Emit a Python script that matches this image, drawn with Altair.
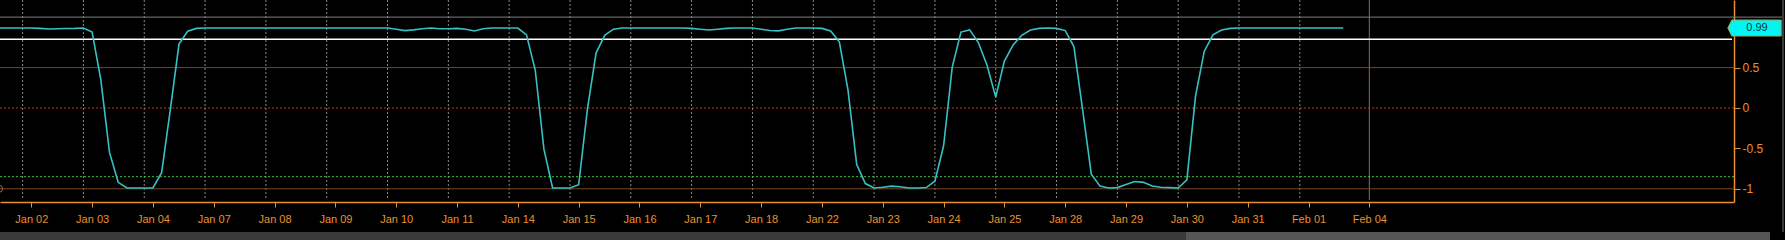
import altair as alt
import pandas as pd

# ---- data ----
day_labels = ["Jan 02", "Jan 03", "Jan 04", "Jan 07", "Jan 08", "Jan 09", "Jan 10",
              "Jan 11", "Jan 14", "Jan 15", "Jan 16", "Jan 17", "Jan 18", "Jan 22",
              "Jan 23", "Jan 24", "Jan 25", "Jan 28", "Jan 29", "Jan 30", "Jan 31",
              "Feb 01", "Feb 04"]
steps_per_day = 7
first_step = -4  # samples start 4 steps before the "Jan 02" tick

series_values = (
    [0.99, 0.99, 0.99, 0.99]
    + [0.99, 0.985, 0.978, 0.98, 0.983, 0.985, 0.99]          # Jan 02
    + [0.94, 0.35, -0.55, -0.92, -0.99, -0.99, -0.99]         # Jan 03
    + [-0.99, -0.80, -0.02, 0.79, 0.95, 0.985, 0.99]          # Jan 04
    + [0.99] * 7                                              # Jan 07
    + [0.99] * 7                                              # Jan 08
    + [0.99] * 7                                              # Jan 09
    + [0.975, 0.958, 0.967, 0.98, 0.99, 0.98, 0.98]           # Jan 10
    + [0.985, 0.975, 0.954, 0.98, 0.99, 0.99, 0.99]           # Jan 11
    + [0.99, 0.905, 0.47, -0.51, -0.99, -0.99, -0.99]         # Jan 14
    + [-0.95, -0.02, 0.68, 0.90, 0.975, 0.99, 0.99]           # Jan 15
    + [0.99, 0.99, 0.99, 0.99, 0.99, 0.99, 0.985]             # Jan 16
    + [0.975, 0.965, 0.975, 0.985, 0.99, 0.99, 0.99]          # Jan 17
    + [0.975, 0.96, 0.955, 0.975, 0.99, 0.99, 0.99]           # Jan 18
    + [0.985, 0.954, 0.82, 0.22, -0.70, -0.935, -0.99]        # Jan 22
    + [-0.98, -0.967, -0.975, -0.99, -0.99, -0.985, -0.906]   # Jan 23
    + [-0.47, 0.51, 0.94, 0.967, 0.81, 0.53, 0.135]           # Jan 24
    + [0.58, 0.78, 0.90, 0.965, 0.985, 0.99, 0.985]           # Jan 25
    + [0.958, 0.76, -0.02, -0.82, -0.967, -0.99, -0.985]      # Jan 28
    + [-0.947, -0.91, -0.92, -0.965, -0.98, -0.985, -0.99]    # Jan 29
    + [-0.89, 0.15, 0.70, 0.905, 0.965, 0.985, 0.99]          # Jan 30
    + [0.99] * 7                                              # Jan 31
    + [0.99] * 5                                              # Feb 01
)

y_tick_values = [0.5, 0, -0.5, -1]
last_value_label = "0.99"
last_value = 0.99

# horizontal reference levels: value, colour, dash, width
hline_values = [1.125, 0.85, 0.5, 0.0, -0.85, -1.0]
hline_colors = ["#7c7c7c", "#ffffff", "#7a4526", "#c8321e", "#3fc23f", "#7a4526"]
hline_dashes = [None, None, None, [2, 2], [2, 2], None]
hline_widths = [1, 1.5, 1, 1, 1, 1]

# ---- layout ----
W, H = 1734, 202
ORANGE = "#e8912d"
FONT = "Liberation Sans"

x_scale = alt.Scale(domain=[-0.5146, 27.996], nice=False, zero=False)
y_scale = alt.Scale(domain=[-1.1634, 1.3366], nice=False, zero=False)

series_df = pd.DataFrame({
    "t": [(first_step + i) / steps_per_day for i in range(len(series_values))],
    "v": series_values,
})

grid_df = pd.DataFrame({"t": [d - 1 / steps_per_day for d in range(len(day_labels) - 1)]})
now_df = pd.DataFrame({"t": [len(day_labels) - 1]})

label_js = "[" + ",".join("'" + s + "'" for s in day_labels) + "]"

vgrid = alt.Chart(grid_df).mark_rule(color="#8a8a8a", strokeDash=[2, 2], strokeWidth=1).encode(
    x=alt.X("t:Q", scale=x_scale, axis=None),
    y=alt.value(0), y2=alt.value(198),
)
now_rule = alt.Chart(now_df).mark_rule(color="#9c6a3c", strokeWidth=1).encode(
    x=alt.X("t:Q", scale=x_scale, axis=None),
    y=alt.value(0), y2=alt.value(200),
)

hlayers = []
for v, c, d, w in zip(hline_values, hline_colors, hline_dashes, hline_widths):
    kw = dict(color=c, strokeWidth=w)
    if d is not None:
        kw["strokeDash"] = d
    x2 = 1782 if v > 1.1 else (1732 if v == 0.85 else W)
    hlayers.append(
        alt.Chart(pd.DataFrame({"v": [v]})).mark_rule(**kw).encode(
            y=alt.Y("v:Q", scale=y_scale, axis=None),
            x=alt.value(0), x2=alt.value(x2),
        )
    )

line = alt.Chart(series_df).mark_line(color="#36c2c4", strokeWidth=1.6, clip=True).encode(
    x=alt.X("t:Q", scale=x_scale, title=None,
            axis=alt.Axis(values=list(range(len(day_labels))),
                          labelExpr=label_js + "[datum.value]",
                          domainColor=ORANGE, tickColor=ORANGE, tickSize=5,
                          labelColor=ORANGE, labelFont=FONT, labelFontSize=11,
                          labelPadding=6, labelOverlap=False, labelFlush=False,
                          grid=False, domainWidth=1.5)),
    y=alt.Y("v:Q", scale=y_scale, title=None,
            axis=alt.Axis(orient="right", values=y_tick_values,
                          labelExpr="'' + datum.value",
                          domainColor=ORANGE, tickColor=ORANGE, tickSize=6,
                          labelColor=ORANGE, labelFont=FONT, labelFontSize=12,
                          labelPadding=2, grid=False, domainWidth=1.5)),
)

badge_df = pd.DataFrame({"v": [last_value], "label": [last_value_label]})
badge = alt.Chart(badge_df).mark_point(
    shape="M-1,0L-0.85,-0.3L1,-0.3L1,0.3L-0.85,0.3Z",
    size=2852, filled=True, fill="#00f5f5", stroke="#a8a048", strokeWidth=1, opacity=1,
).encode(
    x=alt.value(1754.5),
    y=alt.Y("v:Q", scale=y_scale, axis=None),
)
badge_text = alt.Chart(badge_df).mark_text(
    font=FONT, fontSize=11, color="#0d3434", align="center", baseline="middle",
).encode(
    x=alt.value(1757),
    y=alt.Y("v:Q", scale=y_scale, axis=None),
    text="label:N",
)

marker = alt.Chart(pd.DataFrame({"v": [-1.0]})).mark_point(
    shape="circle", size=50, filled=False, color=ORANGE, strokeWidth=1,
).encode(x=alt.value(-1), y=alt.Y("v:Q", scale=y_scale, axis=None))

bar_df = pd.DataFrame({"a": [0]})
scroll_track = alt.Chart(bar_df).mark_rect(color="#3a3a3a").encode(
    x=alt.value(0), x2=alt.value(1186), y=alt.value(232), y2=alt.value(240))
scroll_thumb = alt.Chart(bar_df).mark_rect(color="#555555").encode(
    x=alt.value(1186), x2=alt.value(1770), y=alt.value(232), y2=alt.value(240))
edge = alt.Chart(bar_df).mark_rule(color="#3a3a3a", strokeWidth=2).encode(
    x=alt.value(1783), y=alt.value(0), y2=alt.value(232))

chart = alt.layer(
    vgrid, now_rule, *hlayers, line, badge, badge_text, marker,
    scroll_track, scroll_thumb, edge,
).resolve_axis(
    x="independent", y="independent"
).properties(
    width=W, height=H,
    autosize=alt.AutoSizeParams(type="none"),
    padding={"left": 0, "top": 0, "right": 51, "bottom": 38},
    background="#000000",
).configure_view(stroke=None)

chart.save("out.html", embed_options={"renderer": "svg", "actions": False})
